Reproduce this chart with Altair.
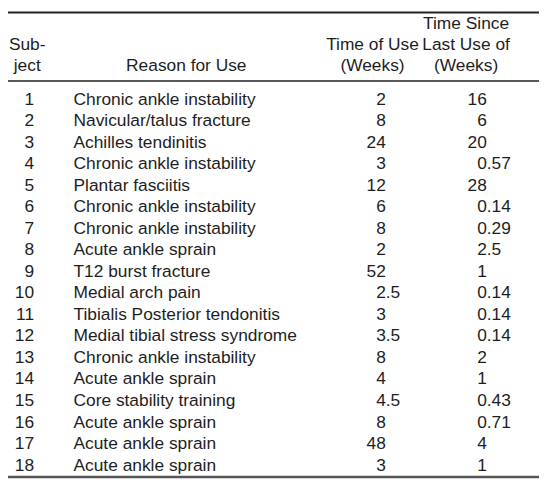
import altair as alt
import pandas as pd

# ---- data ----
subjects = list(range(1, 19))
reasons = [
    "Chronic ankle instability",
    "Navicular/talus fracture",
    "Achilles tendinitis",
    "Chronic ankle instability",
    "Plantar fasciitis",
    "Chronic ankle instability",
    "Chronic ankle instability",
    "Acute ankle sprain",
    "T12 burst fracture",
    "Medial arch pain",
    "Tibialis Posterior tendonitis",
    "Medial tibial stress syndrome",
    "Chronic ankle instability",
    "Acute ankle sprain",
    "Core stability training",
    "Acute ankle sprain",
    "Acute ankle sprain",
    "Acute ankle sprain",
]
time_of_use = ["2", "8", "24", "3", "12", "6", "8", "2", "52", "2.5", "3", "3.5",
               "8", "4", "4.5", "8", "48", "3"]
time_since = ["16", "6", "20", "0.57", "28", "0.14", "0.29", "2.5", "1", "0.14",
              "0.14", "0.14", "2", "1", "0.43", "0.71", "4", "1"]

header_subject = ["Sub-", "ject"]
header_reason = ["Reason for Use"]
header_use = ["Time of Use", "(Weeks)"]
header_since = ["Time Since", "Last Use of", "(Weeks)"]


def split_int(s):
    return s.split(".")[0]


def split_frac(s):
    return "." + s.split(".")[1] if "." in s else ""


df = pd.DataFrame({
    "row": subjects,
    "subject": [str(s) for s in subjects],
    "reason": reasons,
    "use_int": [split_int(v) for v in time_of_use],
    "use_frac": [split_frac(v) for v in time_of_use],
    "since_int": [split_int(v) for v in time_since],
    "since_frac": [split_frac(v) for v in time_since],
})

# ---- layout ----
W, H = 539, 475
FONT = "Liberation Sans"
FS = 17.6
COLOR = "#1e1e1e"
ROW_STEP = 21.85
Y0 = 94.5  # baseline of first row (px)
d0 = 1 - Y0 / ROW_STEP
d1 = d0 + H / ROW_STEP

yenc = alt.Y("row:Q", scale=alt.Scale(domain=[d0, d1], reverse=True), axis=None)

base = alt.Chart(df)


def col(field, x, align):
    return base.mark_text(
        font=FONT, fontSize=FS, color=COLOR, align=align, baseline="alphabetic"
    ).encode(x=alt.value(x), y=yenc, text=f"{field}:N")


X_SUBJ = 26.5
X_REASON = 66.5
X_USE = 383.5
X_SINCE = 486

layers = [
    col("subject", X_SUBJ, "right"),
    col("reason", X_REASON, "left"),
    col("use_int", X_USE, "right"),
    col("use_frac", X_USE, "left"),
    col("since_int", X_SINCE, "right"),
    col("since_frac", X_SINCE, "left"),
]

# header text
HEAD_BASE = [18, 39.5, 60.5]


def header(lines, x, start_line):
    out = []
    for i, t in enumerate(lines):
        out.append(
            alt.Chart(pd.DataFrame({"t": [t]})).mark_text(
                font=FONT, fontSize=FS, color=COLOR, align="center", baseline="alphabetic"
            ).encode(x=alt.value(x), y=alt.value(HEAD_BASE[start_line + i]), text="t:N")
        )
    return out


layers += header(header_subject, 19.5, 1)
layers += header(header_reason, 181, 2)
layers += header(header_use, 370, 1)
layers += header(header_since, 465, 0)


def rule(y, width, color):
    return alt.Chart(pd.DataFrame({"a": [0]})).mark_rule(
        color=color, strokeWidth=width
    ).encode(x=alt.value(-10), x2=alt.value(W + 10), y=alt.value(y))


layers += [
    rule(1, 2, "#222222"),
    rule(70.5, 1.7, "#222222"),
    rule(472.5, 2.4, "#555555"),
]

chart = alt.layer(*layers).properties(
    width=W, height=H, padding=0, autosize=alt.AutoSizeParams(type="none")
).configure_view(stroke=None)

chart.save("out.html", embed_options={"renderer": "svg", "actions": False})
